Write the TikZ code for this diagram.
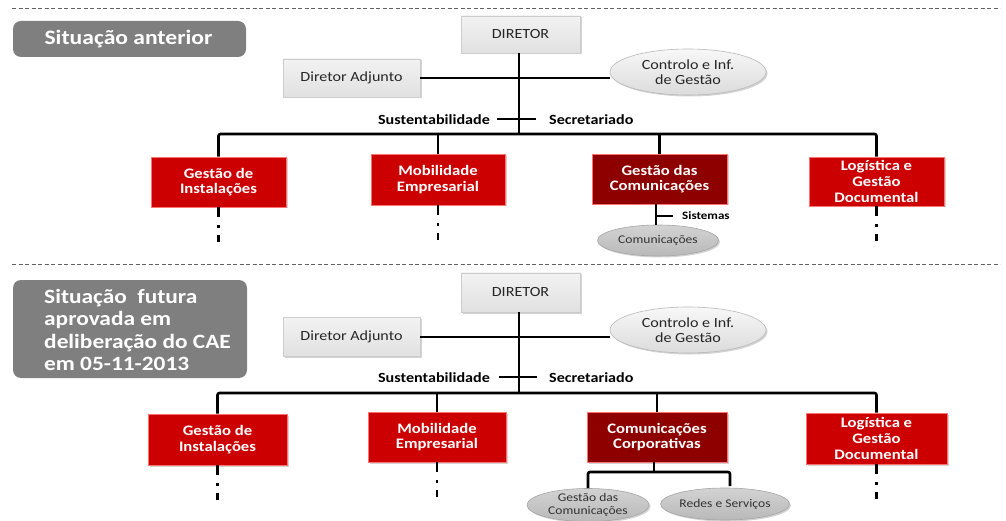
\documentclass[tikz,border=0pt]{standalone}
\usepackage{fontspec}
\setmainfont{Carlito}[FakeStretch=1.15]
\usetikzlibrary{shapes.geometric,shadows}
\definecolor{unitred}{HTML}{CC0000}
\definecolor{unitdark}{HTML}{8E0000}
\definecolor{titlegrey}{HTML}{7F7F7F}
\definecolor{sepgrey}{HTML}{606060}
\begin{document}
\begin{tikzpicture}[x=1pt,y=-1pt,
  conn/.style={line width=2.6pt,black},
  cont/.style={line width=2.6pt,black,dash pattern=on 10pt off 8pt on 3pt off 7pt on 8pt off 60pt},
  sepline/.style={line width=0.7pt,sepgrey,dash pattern=on 4pt off 2.5pt},
  shade/.style={drop shadow={shadow xshift=1.5pt,shadow yshift=-1.5pt,opacity=0.35}},
  greybox/.style={shade,draw=gray!40,line width=0.6pt,top color=gray!10,bottom color=gray!24,
    text=black!85,inner sep=2pt,font=\fontsize{14}{16}\selectfont},
  ctlell/.style={shade,ellipse,draw=gray!55,line width=0.6pt,top color=gray!6,bottom color=gray!28,
    inner sep=0pt,align=center,text=black!85,font=\fontsize{14}{15.5}\selectfont},
  subell/.style={shade,ellipse,draw=gray!70,line width=0.6pt,top color=gray!35,bottom color=gray!55,
    inner sep=0pt,align=center,text=black!80,font=\fontsize{11.8}{12.8}\selectfont},
  unit/.style={shade,draw=red!55!white,line width=0.6pt,fill=unitred,text=white,align=center,
    inner sep=2pt,font=\bfseries\fontsize{14.5}{15.7}\selectfont},
  unitdk/.style={unit,fill=unitdark},
  titlebox/.style={fill=titlegrey,rounded corners=8pt,inner sep=0pt},
  titletext/.style={text=white,font=\bfseries\fontsize{20.3}{22.3}\selectfont,inner sep=0pt},
  side/.style={font=\bfseries\fontsize{14}{15}\selectfont,inner sep=0pt},
  small/.style={font=\bfseries\fontsize{11.3}{12}\selectfont,inner sep=0pt}]
\useasboundingbox (0,0) rectangle (1006,521);

% separators
\coordinate (s1a) at (12,8);    \coordinate (s1b) at (1000,8);
\coordinate (s2a) at (12,264);  \coordinate (s2b) at (1000,264);
\draw[sepline] (s1a) -- (s1b);
\draw[sepline] (s2a) -- (s2b);

% ---------- previous structure ----------
\node[titlebox,minimum width=233,minimum height=36] (sit1) at (129.5,39) {};
\node[titletext,font=\bfseries\fontsize{20.5}{22}\selectfont] (sit1txt) at (128.5,39.5) {Situação anterior};

\node[greybox,minimum width=119,minimum height=37] (dir1) at (520.5,34.5) {DIRETOR};
\node[greybox,minimum width=137,minimum height=38] (adj1) at (351.5,78) {Diretor Adjunto};
\node[ctlell,minimum width=156,minimum height=46] (ctl1) at (688,72) {Controlo e Inf.\\de Gestão};

\node[unit,minimum width=135,minimum height=50] (gi1) at (218.5,182) {Gestão de\\Instalações};
\node[unit,minimum width=134,minimum height=51] (me1) at (438,179.5) {Mobilidade\\Empresarial};
\node[unitdk,minimum width=135,minimum height=50] (gc1) at (659.5,179) {Gestão das\\Comunicações};
\node[unit,minimum width=135,minimum height=49] (lg1) at (876.5,181.5) {Logística e\\Gestão\\Documental};
\node[subell,minimum width=121,minimum height=31] (com1) at (658,240.5) {Comunicações};

\node[side,anchor=east] (sus1) at (490,119.5) {Sustentabilidade};
\node[side,anchor=west] (sec1) at (549,119.5) {Secretariado};
\node[small,anchor=west] (sis1) at (682,216) {Sistemas};

\coordinate (bus1) at (519,134);
\coordinate (x1a) at (497,119);
\coordinate (x1b) at (536,119);
\coordinate (t1) at (656,216);
\coordinate (t1b) at (673,216);

\draw[conn] (dir1.south -| bus1) -- (bus1);
\draw[conn] (adj1.east) -- (adj1.east -| ctl1.west);
\draw[conn] (x1a) -- (x1b);
\draw[conn,rounded corners=2pt] (gi1.north) -- (gi1.north |- bus1) -- (lg1.north |- bus1) -- (lg1.north);
\draw[conn] (me1.north) -- (me1.north |- bus1);
\draw[conn] (gc1.north) -- (gc1.north |- bus1);
\draw[conn] (gc1.south -| t1) -- (com1.north -| t1);
\draw[conn] (t1) -- (t1b);

\draw[cont] (gi1.south) -- ++(0,35);
\draw[cont] (me1.south) -- ++(0,35);
\draw[cont] (lg1.south) -- ++(0,35);

% ---------- approved structure ----------
\node[titlebox,minimum width=234,minimum height=98] (sit2) at (130,329) {};
\node[titletext,align=left] (sit2txt) at (137.5,330) {Situação\ \ futura\\aprovada em\\deliberação do CAE\\em 05-11-2013};

\node[greybox,minimum width=119,minimum height=39] (dir2) at (520.5,292.5) {DIRETOR};
\node[greybox,minimum width=137,minimum height=39] (adj2) at (351.5,337) {Diretor Adjunto};
\node[ctlell,minimum width=156,minimum height=46] (ctl2) at (688,330) {Controlo e Inf.\\de Gestão};

\node[unit,minimum width=139,minimum height=51] (gi2) at (217.5,439.5) {Gestão de\\Instalações};
\node[unit,minimum width=138,minimum height=50] (me2) at (437,437) {Mobilidade\\Empresarial};
\node[unitdk,minimum width=140,minimum height=50] (cc2) at (657,437) {Comunicações\\Corporativas};
\node[unit,minimum width=141,minimum height=51] (lg2) at (876.5,438.5) {Logística e\\Gestão\\Documental};
\node[subell,minimum width=122,minimum height=33] (gd2) at (588,505) {Gestão das\\Comunicações};
\node[subell,minimum width=122,minimum height=32] (rs2) at (725,504) {Redes e Serviços};

\node[side,anchor=east] (sus2) at (490,377.5) {Sustentabilidade};
\node[side,anchor=west] (sec2) at (549,377.5) {Secretariado};

\coordinate (bus2) at (519,393);
\coordinate (x2a) at (499,377);
\coordinate (x2b) at (537,377);
\coordinate (sub2) at (654,472);

\draw[conn] (dir2.south -| bus2) -- (bus2);
\draw[conn] (adj2.east) -- (adj2.east -| ctl2.west);
\draw[conn] (x2a) -- (x2b);
\draw[conn,rounded corners=2pt] (gi2.north) -- (gi2.north |- bus2) -- (lg2.north |- bus2) -- (lg2.north);
\draw[conn] (me2.north) -- (me2.north |- bus2);
\draw[conn] (cc2.north) -- (cc2.north |- bus2);
\draw[conn] (cc2.south -| sub2) -- (sub2);
\draw[conn,rounded corners=2pt] (gd2.north) -- (gd2.north |- sub2) -- (sub2 -| 730,0) -- (730,486);

\draw[cont] (gi2.south) -- ++(0,35);
\draw[cont] (me2.south) -- ++(0,35);
\draw[cont] (lg2.south) -- ++(0,35);
\end{tikzpicture}
\end{document}
